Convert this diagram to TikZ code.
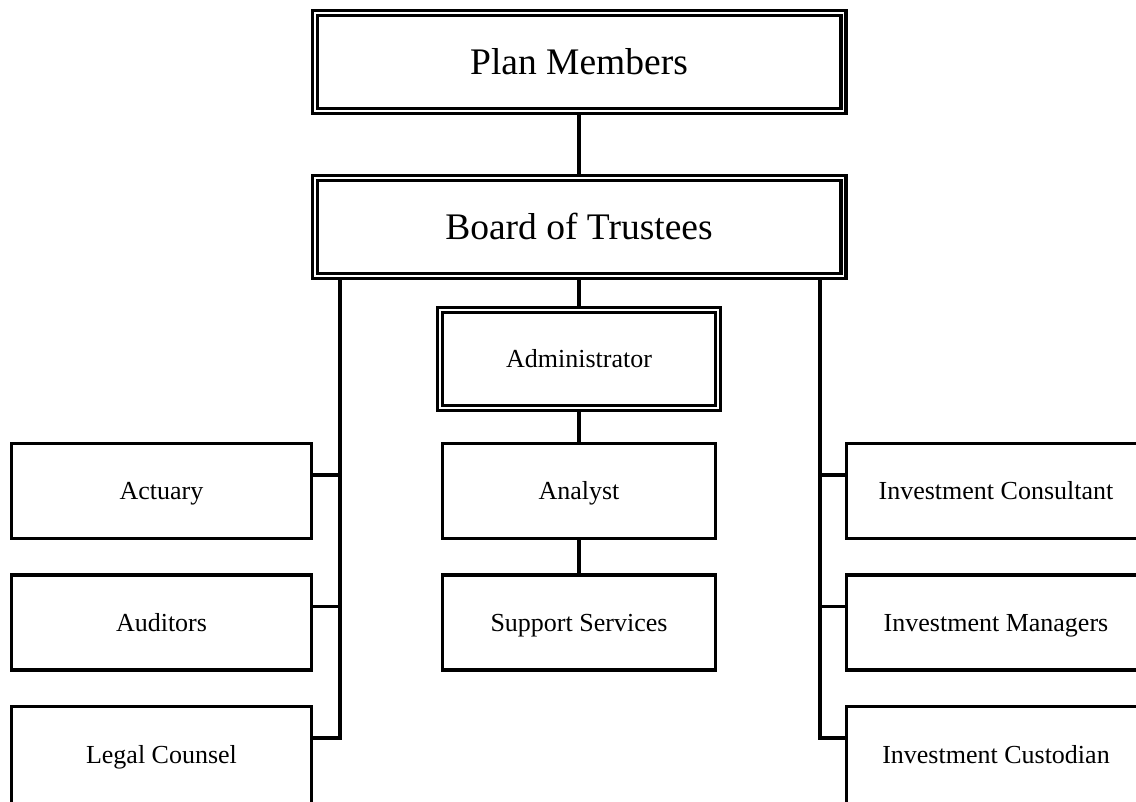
\documentclass[tikz,border=0pt]{standalone}
\usepackage{fontspec}
\setmainfont{Liberation Serif}
\begin{document}
\begin{tikzpicture}[x=1pt,y=-1pt,
  dbox/.style={draw, double, line width=3.3pt, double distance=1.7pt,
    inner sep=0pt, outer sep=4.15pt, align=center},
  sbox/.style={draw, line width=3.3pt, inner sep=0pt, align=center,
    minimum width=299.7pt, minimum height=95pt, smalltext},
  smalltext/.style={font=\fontsize{26}{30}\selectfont, text height=17.2pt, text depth=0pt},
  big/.style={font=\fontsize{37.5}{42}\selectfont, text height=24.8pt, text depth=0pt,
    minimum width=528.7pt, minimum height=97.7pt},
  conn/.style={line width=3.3pt}
]
\path[use as bounding box, clip] (0,0) rectangle (1136,802);
\fill[white] (0,0) rectangle (1136,802);

% top chain
\node[dbox, big] (pm) at (579,62) {Plan Members};
\node[dbox, big] (bt) at (579,227) {Board of Trustees};
\node[dbox, smalltext, minimum width=277.7pt, minimum height=97.7pt] (adm) at (579,359) {Administrator};
\node[sbox, minimum width=272.7pt] (an) at (579,491) {Analyst};
\node[sbox, minimum width=272.7pt] (ss) at (579,622.5) {Support Services};

% left column
\node[sbox] (ac) at (161.5,491) {Actuary};
\node[sbox] (au) at (161.5,622.5) {Auditors};
\node[sbox, minimum height=97.1pt] (lc) at (161.5,755.2) {Legal Counsel};

% right column
\node[sbox] (ic) at (996,491) {Investment Consultant};
\node[sbox] (im) at (996,622.5) {Investment Managers};
\node[sbox, minimum height=97.1pt] (icu) at (996,755.2) {Investment Custodian};

\coordinate (lbus) at (340,0);
\coordinate (rbus) at (820,0);

% connectors
\draw[conn] (pm.south) -- (bt.north);
\draw[conn] (bt.south) -- (adm.north);
\draw[conn] (adm.south) -- (an.north);
\draw[conn] (an.south) -- (ss.north);

\draw[conn] (bt.south -| lbus) |- ([yshift=-33pt]lc.north east);
\draw[conn] ([yshift=-33pt]ac.north east) -- ([yshift=-33pt]ac.north east -| lbus);
\draw[conn] ([yshift=-33pt]au.north east) -- ([yshift=-33pt]au.north east -| lbus);

\draw[conn] (bt.south -| rbus) |- ([yshift=-33pt]icu.north west);
\draw[conn] ([yshift=-33pt]ic.north west) -- ([yshift=-33pt]ic.north west -| rbus);
\draw[conn] ([yshift=-33pt]im.north west) -- ([yshift=-33pt]im.north west -| rbus);
\end{tikzpicture}
\end{document}
